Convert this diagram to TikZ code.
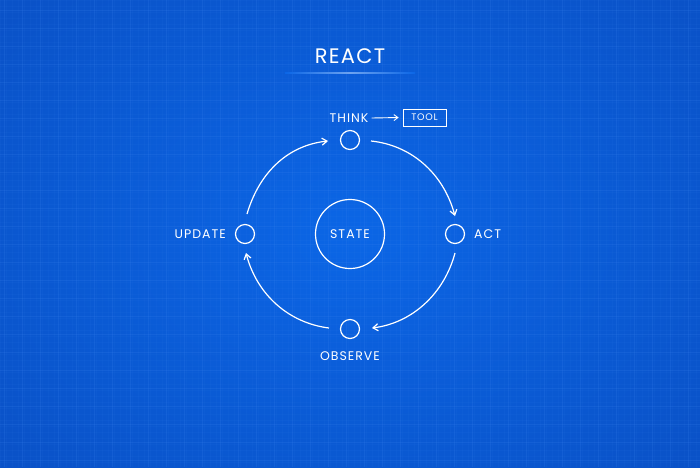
\documentclass[tikz,border=0pt]{standalone}
\usepackage{fontspec}
\setmainfont{Poppins}
\usetikzlibrary{arrows.meta}
\definecolor{bgin}{HTML}{0B66E6}
\definecolor{bgout}{HTML}{0A52C8}
\definecolor{gridc}{HTML}{3F86F0}
\tikzset{
  lbl/.style={text=white, font=\fontsize{12.5}{14}\selectfont\addfontfeature{LetterSpace=8}, inner sep=0pt},
  ttl/.style={text=white, font=\fontsize{21}{24}\selectfont\addfontfeature{LetterSpace=6}, inner sep=0pt},
  stepnode/.style={circle, draw=white, line width=1.2pt, minimum size=19pt, inner sep=0pt},
  statenode/.style={circle, draw=white, line width=1.2pt, minimum size=69pt, inner sep=0pt, text=white, font=\fontsize{12.5}{14}\selectfont\addfontfeature{LetterSpace=8}},
  toolbox/.style={draw=white, line width=0.8pt, text=white, font=\fontsize{9.5}{11}\selectfont\addfontfeature{LetterSpace=8}, minimum width=43pt, minimum height=17pt, inner sep=0pt},
  cyc/.style={draw=white, line width=1.2pt, -{Straight Barb[length=5pt,width=7pt,line width=1.2pt]}},
  tip/.style={draw=white, line width=0.9pt, -{Straight Barb[length=4pt,width=6pt,line width=0.9pt]}},
}
\begin{document}
\begin{tikzpicture}[x=1pt,y=-1pt]
\useasboundingbox (0,0) rectangle (700,467);
\shade[inner color=bgin, outer color=bgout] (-100,-100) rectangle (800,567);
% grid
\foreach \i in {0,6,...,700} \draw[gridc, opacity=0.07, line width=0.4pt] (\i,0) -- (\i,467);
\foreach \j in {0,6,...,467} \draw[gridc, opacity=0.07, line width=0.4pt] (0,\j) -- (700,\j);
\foreach \i in {4,22,...,700} \draw[gridc, opacity=0.18, line width=0.6pt] (\i,0) -- (\i,467);
\foreach \j in {10,28,...,467} \draw[gridc, opacity=0.18, line width=0.6pt] (0,\j) -- (700,\j);
% title
\node[ttl] (title) at (350,56) {REACT};
\shade[left color=bgin, right color=bgin, middle color=white!40!bgin] (285,72.8) rectangle (415,73.6);
% nodes
\node[stepnode] (think) at (350,140) {};
\node[stepnode] (act) at (455,234) {};
\node[stepnode] (observe) at (350,329) {};
\node[stepnode] (update) at (245,234) {};
\node[statenode] (state) at (350,234) {STATE};
% labels
\node[lbl] (thinkl) at (349,118) {THINK};
\node[lbl, anchor=west] (actl) at (474,234.5) {ACT};
\node[lbl] (observel) at (350,356) {OBSERVE};
\node[lbl, anchor=east] (updatel) at (226,234.5) {UPDATE};
\node[toolbox] (tool) at (424.5,117.5) {TOOL};
\draw[tip] ([xshift=3pt]thinkl.east) -- ([xshift=-4pt]tool.west);
% cycle arcs
\draw[cyc] (247,214) .. controls (260,170) and (290,145) .. (328,141);
\draw[cyc] (371,141) .. controls (410,145) and (443,172) .. (455,216);
\draw[cyc] (455,253) .. controls (444,294) and (412,323) .. (372,328);
\draw[cyc] (329,328) .. controls (289,323) and (257,295) .. (246,253);
\end{tikzpicture}
\end{document}
